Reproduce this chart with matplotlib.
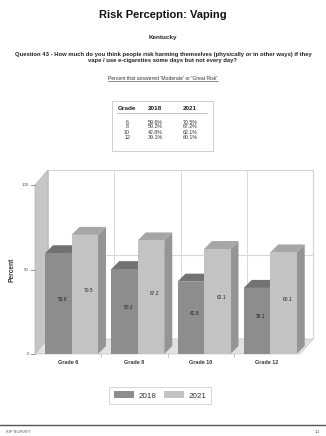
import matplotlib
matplotlib.use("Agg")
import matplotlib.pyplot as plt
from matplotlib.patches import Polygon, Rectangle, Patch
from matplotlib.lines import Line2D

plt.rcParams['font.family'] = ['Liberation Sans', 'DejaVu Sans']

# ---- data ----
grades = ['6', '8', '10', '12']
categories = ['Grade 6', 'Grade 8', 'Grade 10', 'Grade 12']
years = ['2018', '2021']
pct_2018 = [59.6, 50.2, 42.8, 39.1]
pct_2021 = [70.5, 67.2, 62.1, 60.1]
y_ticks = [0, 50, 100]

title = 'Risk Perception: Vaping'
subtitle = 'Kentucky'
question = ('Question 43 - How much do you think people risk harming themselves (physically or in other ways) if they\n'
            'vape / use e-cigarettes some days but not every day?')
note = "Percent that answered 'Moderate' or 'Great Risk'"
footer_left = 'KIP SURVEY'
footer_right = '1/1'

W, H = 326, 436
fig = plt.figure(figsize=(W / 100, H / 100), dpi=100)
fig.patch.set_facecolor('white')


def fx(px):
    return px / W


def fy(py):
    return 1 - py / H


# ---- headings ----
fig.text(fx(163), fy(15), title, ha='center', va='center', fontsize=8.0, fontweight='bold', color='#111111')
fig.text(fx(163), fy(38), subtitle, ha='center', va='center', fontsize=4.6, fontweight='bold', color='#222222')
fig.text(fx(163), fy(57.5), question, ha='center', va='center', fontsize=4.2, fontweight='bold',
         color='#222222', linespacing=1.25)
note_txt = fig.text(fx(163), fy(79), note, ha='center', va='center', fontsize=3.6, color='#333333')

# ---- summary table ----
fig.patches.append(Rectangle((fx(112), fy(151)), fx(213) - fx(112), fy(101) - fy(151),
                             transform=fig.transFigure, fc='white', ec='#c8c8c8', lw=0.6))
col_x = [127, 155, 190]
for cx, head in zip(col_x, ['Grade'] + years):
    fig.text(fx(cx), fy(109), head, ha='center', va='center', fontsize=4.6, fontweight='bold', color='#222222')
fig.lines.append(Line2D([fx(117), fx(207)], [fy(113.5), fy(113.5)], transform=fig.transFigure,
                        color='#aaaaaa', lw=0.5))
for r, (g, a, b) in enumerate(zip(grades, pct_2018, pct_2021)):
    ry = 122 + r * 5.0
    for cx, s in zip(col_x, [g, f'{a:.1f}%', f'{b:.1f}%']):
        fig.text(fx(cx), fy(ry), s, ha='center', va='center', fontsize=3.8, color='#333333')

# ---- 3D-style bar chart ----
ax = fig.add_axes([0, 0, 1, 1])
x0p, x1p = 35, 300      # front plane, horizontal extent
y0p, y1p = 354, 185     # front plane, 0 and 100
sx = (x1p - x0p) / 4
sy = (y0p - y1p) / 100
ax.set_xlim(-x0p / sx, (W - x0p) / sx)
ax.set_ylim(-(H - y0p) / sy, y0p / sy)
ax.axis('off')

DX, DY = 13 / sx, 15 / sy      # wall depth
bdx, bdy = 8 / sx, 8 / sy      # bar depth
n = len(categories)

# back wall
ax.add_patch(Rectangle((DX, DY), n, 100, fc='white', ec='#d4d4d4', lw=0.8, zorder=1))
for i in range(1, n):
    ax.plot([DX + i, DX + i], [DY, 100 + DY], color='#dadada', lw=0.7, zorder=1)
for t in y_ticks[1:-1]:
    ax.plot([DX, DX + n], [t + DY, t + DY], color='#d8d8d8', lw=0.8, zorder=1)

# left wall
ax.add_patch(Polygon([(0, 0), (0, 100), (DX, 100 + DY), (DX, DY)], closed=True,
                     fc='#c6c6c6', ec='#b4b4b4', lw=0.5, zorder=2))
# floor
ax.add_patch(Polygon([(0, 0), (n, 0), (n + DX, DY), (DX, DY)], closed=True,
                     fc='#e2e2e2', ec='#c4c4c4', lw=0.5, zorder=2))

# axis ticks and labels
for t in y_ticks:
    ax.plot([-4 / sx, 0], [t, t], color='#888888', lw=0.6, zorder=3)
    ax.text(-6 / sx, t, str(t), ha='right', va='center', fontsize=3.2, color='#555555')
for i in range(1, n):
    ax.plot([i, i], [0, -3 / sy], color='#aaaaaa', lw=0.5, zorder=3)
for i, c in enumerate(categories):
    ax.text(i + 0.5, -8.7 / sy, c, ha='center', va='center', fontsize=3.9, fontweight='bold', color='#333333')
ax.text(-23 / sx, 50, 'Percent', rotation=90, ha='center', va='center', fontsize=4.8,
        fontweight='bold', color='#333333')

styles = [
    dict(front='#8d8d8d', top='#727272', side='#6c6c6c'),
    dict(front='#c3c3c3', top='#a6a6a6', side='#959595'),
]
bar_w = 26.5 / sx
first_off = 10 / sx


def bar3d(xl, w, h, st):
    ax.add_patch(Polygon([(xl + w, 0), (xl + w + bdx, bdy), (xl + w + bdx, h + bdy), (xl + w, h)],
                         closed=True, fc=st['side'], ec='none', zorder=4))
    ax.add_patch(Polygon([(xl, h), (xl + w, h), (xl + w + bdx, h + bdy), (xl + bdx, h + bdy)],
                         closed=True, fc=st['top'], ec='none', zorder=4))
    ax.add_patch(Rectangle((xl, 0), w, h, fc=st['front'], ec='none', zorder=4))


for i in range(n):
    for k, vals in enumerate([pct_2018, pct_2021]):
        v = vals[i]
        xl = i + first_off + k * bar_w
        bar3d(xl, bar_w, v, styles[k])
        ax.text(xl + bar_w / 2 + bdx / 2, v / 2 + bdy / 2, f'{v:.1f}', ha='center', va='center',
                fontsize=3.5, color='#222222', zorder=5)

# legend
handles = [Patch(fc=styles[k]['front'], ec='none') for k in range(2)]
leg = ax.legend(handles, years, loc='center', bbox_to_anchor=(fx(160), fy(395.5)),
                bbox_transform=fig.transFigure, ncol=2, fontsize=5.8, frameon=True, fancybox=False,
                edgecolor='#d0d0d0', framealpha=1, handlelength=2.5, handleheight=0.9,
                handletextpad=0.5, columnspacing=1.0, borderpad=0.6)
leg.get_frame().set_linewidth(0.6)
for t in leg.get_texts():
    t.set_color('#333333')

# footer
fig.lines.append(Line2D([0, 1], [fy(425), fy(425)], transform=fig.transFigure, color='#555555', lw=1.0))
fig.text(fx(6), fy(432), footer_left, ha='left', va='center', fontsize=3.0, color='#555555')
fig.text(fx(320), fy(432), footer_right, ha='right', va='center', fontsize=3.0, color='#555555')

# underline the note line
fig.canvas.draw()
bb = note_txt.get_window_extent()
fig.lines.append(Line2D([bb.x0 / W, bb.x1 / W], [(bb.y0 + 0.3) / H, (bb.y0 + 0.3) / H],
                        transform=fig.transFigure, color='#333333', lw=0.4))

fig.savefig('out.png', dpi=100, facecolor='white')
